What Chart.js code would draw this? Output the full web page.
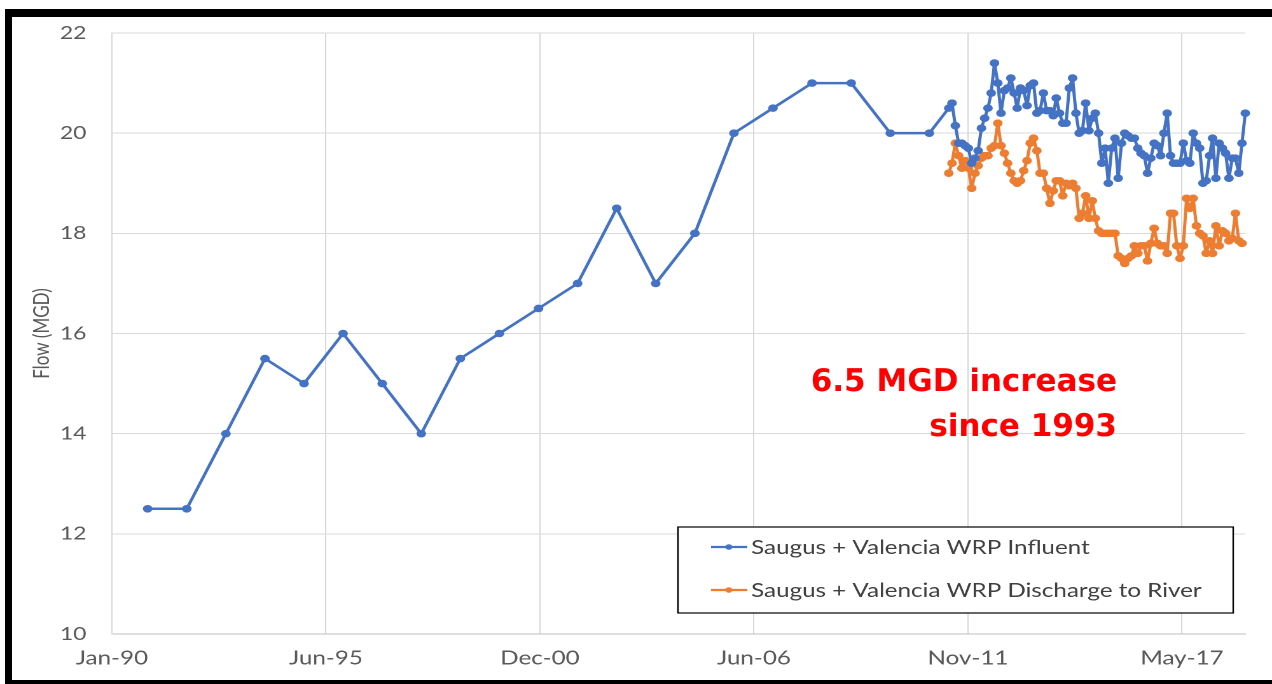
<!DOCTYPE html>
<html>
<head>
<meta charset="utf-8">
<script src="https://cdn.jsdelivr.net/npm/chart.js@4.4.1/dist/chart.umd.min.js"></script>
<style>
  html, body { margin: 0; padding: 0; background: #ffffff; }
  body { width: 1272px; height: 684px; overflow: hidden; position: relative; }
  #wrap { position: absolute; left: 0; top: 0; height: 684px; transform-origin: 0 0; }
  #frame { position: absolute; left: 5px; top: 9px; width: 1280px; height: 675px; box-sizing: border-box;
           border-top: 8px solid #000; border-left: 7px solid #000; border-bottom: 4px solid #000; pointer-events: none; }
</style>
</head>
<body>
<div id="wrap"><canvas id="c"></canvas></div>
<div id="frame"></div>
<script>
// ---------------- data ----------------
const seriesNames = ['Saugus + Valencia WRP Influent', 'Saugus + Valencia WRP Discharge to River'];
const seriesColors = ['#4472C4', '#ED7D31'];

// annual influent (December of each year)
const influentYears = [1990, 1991, 1992, 1993, 1994, 1995, 1996, 1997, 1998, 1999, 2000,
                       2001, 2002, 2003, 2004, 2005, 2006, 2007, 2008, 2009, 2010];
const influentAnnual = [12.5, 12.5, 14, 15.5, 15, 16, 15, 14, 15.5, 16, 16.5,
                        17, 18.5, 17, 18, 20, 20.5, 21, 21, 20, 20];

// monthly records start June 2011
const monthlyStart = [2011, 6];
const influentMonthly = [
  20.5, 20.6, 20.15, 19.8, 19.8, 19.75, 19.7, 19.4, 19.5, 19.65, 20.1, 20.3,
  20.5, 20.8, 21.4, 21.0, 20.4, 20.85, 20.9, 21.1, 20.8, 20.5, 20.9, 20.85,
  20.55, 20.95, 21.0, 20.4, 20.45, 20.8, 20.45, 20.45, 20.35, 20.7, 20.4, 20.2,
  20.2, 20.9, 21.1, 20.4, 20.0, 20.05, 20.6, 20.05, 20.3, 20.4, 20.0, 19.4,
  19.7, 19.0, 19.7, 19.9, 19.1, 19.8, 20.0, 19.95, 19.9, 19.9, 19.7, 19.6,
  19.55, 19.2, 19.5, 19.8, 19.75, 19.55, 20.0, 20.4, 19.55, 19.4, 19.4, 19.4,
  19.8, 19.45, 19.4, 20.0, 19.8, 19.7, 19.0, 19.05, 19.55, 19.9, 19.1, 19.8,
  19.7, 19.6, 19.1, 19.5, 19.5, 19.2, 19.8, 20.4
];
const dischargeMonthly = [
  19.2, 19.4, 19.8, 19.55, 19.3, 19.45, 19.3, 18.9, 19.2, 19.35, 19.5, 19.55,
  19.55, 19.7, 19.75, 20.2, 19.75, 19.6, 19.4, 19.2, 19.05, 19.0, 19.05, 19.25,
  19.45, 19.8, 19.9, 19.65, 19.2, 19.2, 18.9, 18.6, 18.85, 19.05, 19.05, 18.75,
  19.0, 18.95, 19.0, 18.9, 18.3, 18.4, 18.75, 18.3, 18.65, 18.3, 18.05, 18.0,
  18.0, 18.0, 18.0, 18.0, 17.55, 17.5, 17.4, 17.5, 17.55, 17.75, 17.6, 17.75,
  17.75, 17.45, 17.8, 18.1, 17.8, 17.75, 17.75, 17.6, 18.4, 18.4, 17.75, 17.5,
  17.75, 18.7, 18.5, 18.7, 18.15, 18.0, 17.95, 17.6, 17.85, 17.6, 18.15, 17.75,
  18.05, 18.0, 17.85, 17.9, 18.4, 17.85, 17.8
];

const yTicks = [10, 12, 14, 16, 18, 20, 22];
const xTickStepDays = 2000;          // Excel date axis major unit
const xAxisStart = [1990, 1];        // Jan-90
const xAxisEnd = [2019, 1];
const noteLines = ['6.5 MGD increase', 'since 1993'];
const yTitle = 'Flow (MGD)';

// ---------------- helpers ----------------
const STRETCH = 1.272;
const MONTHS = ['Jan','Feb','Mar','Apr','May','Jun','Jul','Aug','Sep','Oct','Nov','Dec'];
const DAY = 86400000;
const T0 = Date.UTC(xAxisStart[0], xAxisStart[1] - 1, 1);
function dayOf(y, m) { return Math.round((Date.UTC(y, m - 1, 1) - T0) / DAY); }
function labelOf(d) {
  const dt = new Date(T0 + d * DAY);
  return MONTHS[dt.getUTCMonth()] + '-' + String(dt.getUTCFullYear() % 100).padStart(2, '0');
}
function monthlyPoints(values) {
  return values.map((v, i) => {
    const mi = (monthlyStart[1] - 1) + i;
    return { x: dayOf(monthlyStart[0] + Math.floor(mi / 12), (mi % 12) + 1), y: v };
  });
}
const influentPoints = influentYears.map((yr, i) => ({ x: dayOf(yr, 12), y: influentAnnual[i] }))
  .concat(monthlyPoints(influentMonthly));
const dischargePoints = monthlyPoints(dischargeMonthly);

// ---------------- layout ----------------
const W = 1272 / STRETCH;
const wrap = document.getElementById('wrap');
wrap.style.width = W + 'px';
wrap.style.transform = 'scaleX(' + STRETCH + ')';

const FONT = "Lato, 'Noto Sans', sans-serif";
const GRAY = '#595959';

const boxLegend = {
  id: 'boxLegend',
  afterDraw(chart) {
    const ctx = chart.ctx;
    const L = 533, R = 969.5, T = 527, B = 613;
    ctx.save();
    ctx.fillStyle = '#ffffff';
    ctx.fillRect(L, T, R - L, B - T);
    ctx.strokeStyle = '#000000';
    ctx.lineWidth = 1.2;
    ctx.strokeRect(L, T, R - L, B - T);
    const rows = [547, 590];
    chart.data.datasets.forEach((ds, i) => {
      const y = rows[i];
      ctx.strokeStyle = ds.borderColor;
      ctx.lineWidth = 2.2;
      ctx.beginPath(); ctx.moveTo(559, y); ctx.lineTo(587.5, y); ctx.stroke();
      ctx.fillStyle = ds.borderColor;
      ctx.beginPath(); ctx.arc(573, y, 2.8, 0, Math.PI * 2); ctx.fill();
      ctx.fillStyle = '#404040';
      ctx.font = '19px ' + FONT;
      ctx.textAlign = 'left';
      ctx.textBaseline = 'middle';
      ctx.fillText(ds.label, 590.5, y + 1);
    });
    ctx.restore();
  }
};

const note = {
  id: 'note',
  afterDraw(chart) {
    const ctx = chart.ctx;
    const xr = 1117 / STRETCH;
    const ys = [383, 428];
    ctx.save();
    ctx.fillStyle = '#FF0000';
    ctx.font = "bold 31px 'DejaVu Sans', Verdana, sans-serif";
    ctx.textAlign = 'right';
    ctx.textBaseline = 'middle';
    noteLines.forEach((t, i) => {
      ctx.save();
      ctx.translate(xr, ys[i]);
      ctx.scale(1 / STRETCH, 1);
      ctx.fillText(t, 0, 0);
      ctx.restore();
    });
    ctx.restore();
  }
};

new Chart(document.getElementById('c'), {
  type: 'line',
  data: {
    datasets: [
      { label: seriesNames[0], data: influentPoints, borderColor: seriesColors[0], backgroundColor: seriesColors[0],
        borderWidth: 2.5, borderJoinStyle: 'round', pointRadius: 3.8, pointBorderWidth: 0, tension: 0, clip: 6 },
      { label: seriesNames[1], data: dischargePoints, borderColor: seriesColors[1], backgroundColor: seriesColors[1],
        borderWidth: 2.5, borderJoinStyle: 'round', pointRadius: 3.8, pointBorderWidth: 0, tension: 0, clip: 6 }
    ]
  },
  options: {
    responsive: true,
    maintainAspectRatio: false,
    animation: false,
    devicePixelRatio: 2,
    layout: { padding: { left: 14, right: W - 979, top: 33, bottom: 0 } },
    plugins: { legend: { display: false }, tooltip: { enabled: false } },
    scales: {
      x: {
        type: 'linear',
        min: 0,
        max: dayOf(xAxisEnd[0], xAxisEnd[1]),
        afterBuildTicks(scale) {
          const out = [];
          for (let v = 0; v <= scale.max; v += xTickStepDays) out.push({ value: v });
          scale.ticks = out;
        },
        afterFit(scale) { scale.height = 50; },
        ticks: { callback: (v) => labelOf(v), color: GRAY, font: { size: 19, family: FONT }, padding: 13, maxRotation: 0, autoSkip: false },
        grid: { color: '#D9D9D9', lineWidth: 1, drawTicks: false },
        border: { color: '#BFBFBF', width: 1 }
      },
      y: {
        min: 10,
        max: 22,
        afterBuildTicks(scale) { scale.ticks = yTicks.map(v => ({ value: v })); },
        afterFit(scale) { scale.width = 74; },
        ticks: { color: GRAY, font: { size: 18, family: FONT }, padding: 20 },
        grid: { color: '#D9D9D9', lineWidth: 1, drawTicks: false },
        border: { color: '#D9D9D9', width: 1 },
        title: { display: true, text: yTitle, color: GRAY, font: { size: 17, family: FONT }, padding: { top: 9, bottom: 0 } }
      }
    }
  },
  plugins: [boxLegend, note]
});
</script>
</body>
</html>
